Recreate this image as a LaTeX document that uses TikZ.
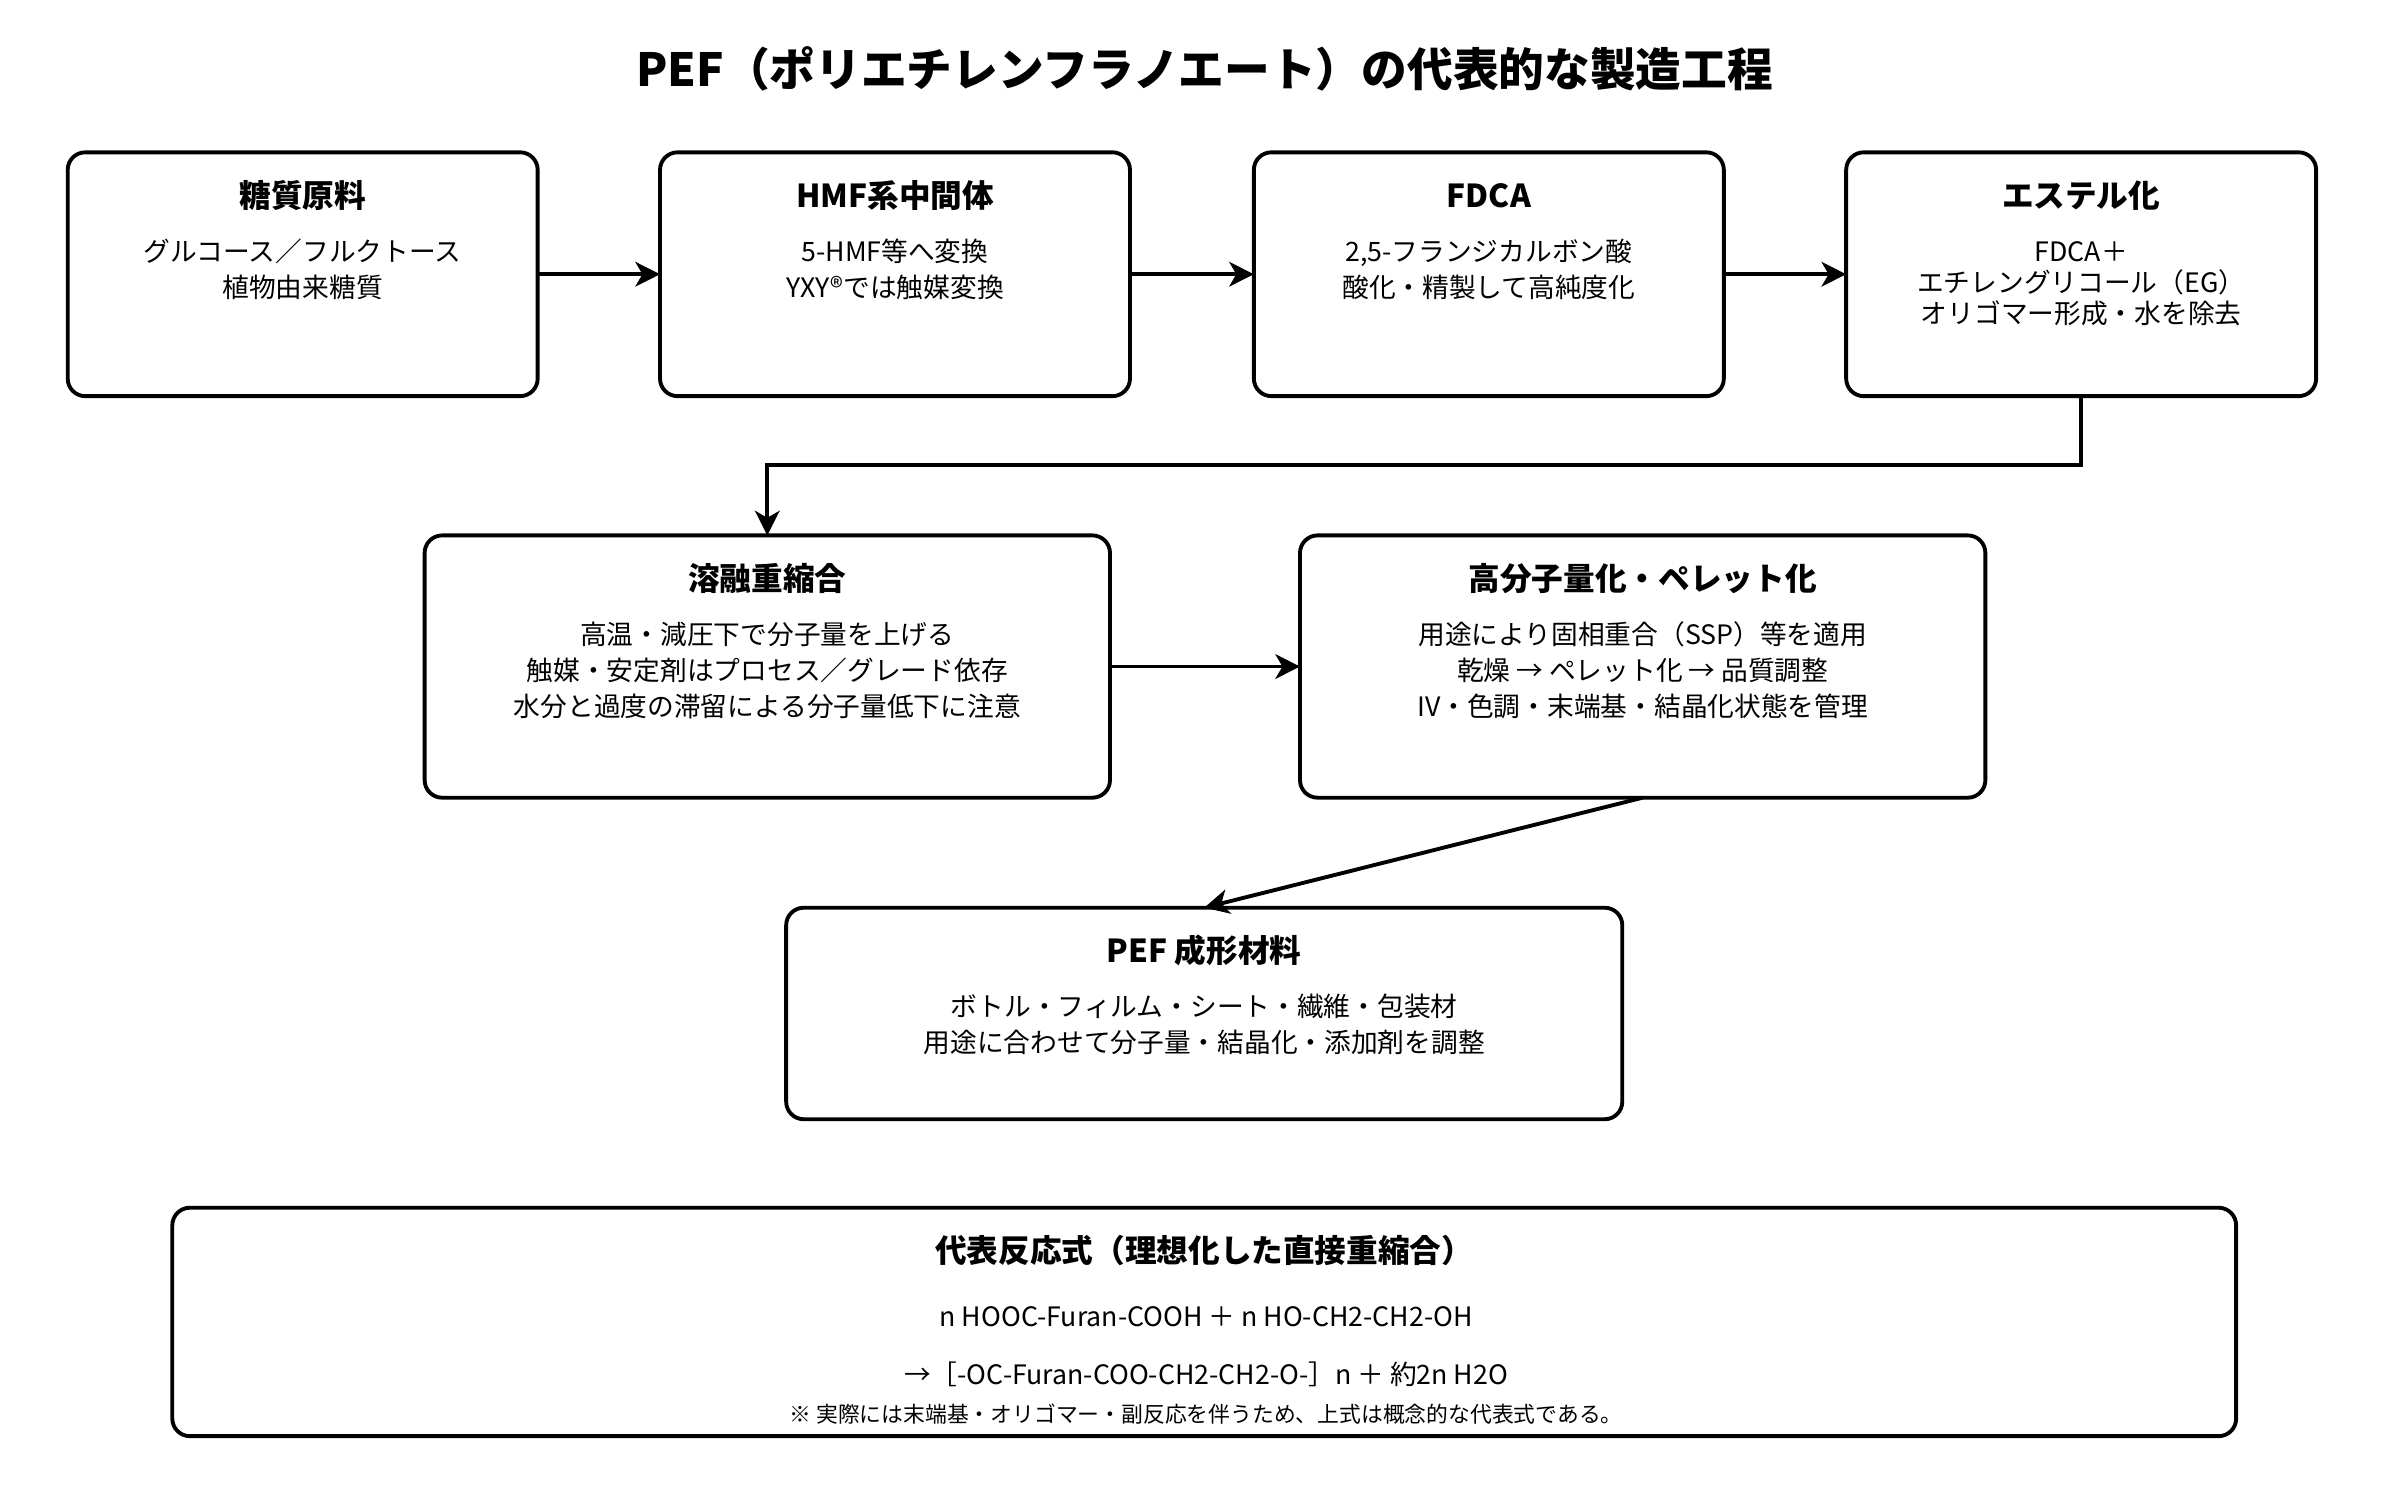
\documentclass[tikz,border=0pt]{standalone}
\usepackage{fontspec}
\setmainfont{Noto Sans CJK JP}
\usetikzlibrary{arrows.meta,calc}
\tikzset{
  box/.style={draw, line width=1.1pt, rounded corners=5pt, anchor=north west, inner sep=0pt, outer sep=0pt},
  head/.style={font=\fontsize{9}{10}\selectfont\bfseries, anchor=center},
  body/.style={font=\fontsize{7.6}{10.3}\selectfont, align=center, anchor=north},
  link/.style={line width=1.1pt, -{Stealth[length=7pt,width=7pt,inset=2pt]}}
}
\newcommand{\flowbox}[6]{% name, x, y, w, h, title
  \node[box, minimum width=#4*0.01538cm-1.1pt, minimum height=#5*0.01538cm-1.1pt] (#1) at (#2,#3) {};
  \node[head] (#1-t) at ($(#1.north)+(0,28)$) {#6};
}
\begin{document}
\begin{tikzpicture}[x=0.01538cm, y=-0.01538cm]
  \useasboundingbox (0,0) rectangle (1560,975);
  \node[font=\fontsize{13}{14}\selectfont\bfseries] (title) at (783,45) {PEF（ポリエチレンフラノエート）の代表的な製造工程};

  \flowbox{raw}{44}{99}{308}{161}{糖質原料}
  \node[body] (raw-b) at ($(raw.north)+(0,48)$) {グルコース／フルクトース\\植物由来糖質};
  \flowbox{hmf}{429}{99}{308}{161}{HMF系中間体}
  \node[body] (hmf-b) at ($(hmf.north)+(0,48)$) {5-HMF等へ変換\\YXY®では触媒変換};
  \flowbox{fdca}{815}{99}{308}{161}{FDCA}
  \node[body] (fdca-b) at ($(fdca.north)+(0,48)$) {2,5-フランジカルボン酸\\酸化・精製して高純度化};
  \flowbox{ester}{1200}{99}{308}{161}{エステル化}
  \node[body, font=\fontsize{7.6}{8.8}\selectfont] (ester-b) at ($(ester.north)+(0,50)$) {FDCA＋\\エチレングリコール（EG）\\オリゴマー形成・水を除去};

  \flowbox{melt}{276}{348}{448}{173}{溶融重縮合}
  \node[body] (melt-b) at ($(melt.north)+(0,48)$) {高温・減圧下で分子量を上げる\\触媒・安定剤はプロセス／グレード依存\\水分と過度の滞留による分子量低下に注意};
  \flowbox{ssp}{845}{348}{448}{173}{高分子量化・ペレット化}
  \node[body] (ssp-b) at ($(ssp.north)+(0,48)$) {用途により固相重合（SSP）等を適用\\乾燥 → ペレット化 → 品質調整\\IV・色調・末端基・結晶化状態を管理};

  \flowbox{pef}{511}{590}{546}{140}{PEF 成形材料}
  \node[body] (pef-b) at ($(pef.north)+(0,48)$) {ボトル・フィルム・シート・繊維・包装材\\用途に合わせて分子量・結晶化・添加剤を調整};

  \flowbox{eq}{112}{785}{1344}{151}{代表反応式（理想化した直接重縮合）}
  \node[font=\fontsize{7.6}{9}\selectfont] (eq-1) at (784,856) {n HOOC-Furan-COOH ＋ n HO-CH2-CH2-OH};
  \node[font=\fontsize{7.6}{9}\selectfont] (eq-2) at (784,893) {→［-OC-Furan-COO-CH2-CH2-O-］n ＋ 約2n H2O};
  \node[font=\fontsize{6.2}{8}\selectfont] (eq-3) at (784,919) {※ 実際には末端基・オリゴマー・副反応を伴うため、上式は概念的な代表式である。};

  % connectors
  \draw[link] (raw.east) -- (hmf.west);
  \draw[link] (hmf.east) -- (fdca.west);
  \draw[link] (fdca.east) -- (ester.west);
  \draw[link] (ester.south) |- ($(melt.north)+(0,-46)$) -- (melt.north);
  \draw[link] (melt.east) -- (ssp.west);
  \draw[link] (ssp.south) -- (pef.north);
\end{tikzpicture}
\end{document}
